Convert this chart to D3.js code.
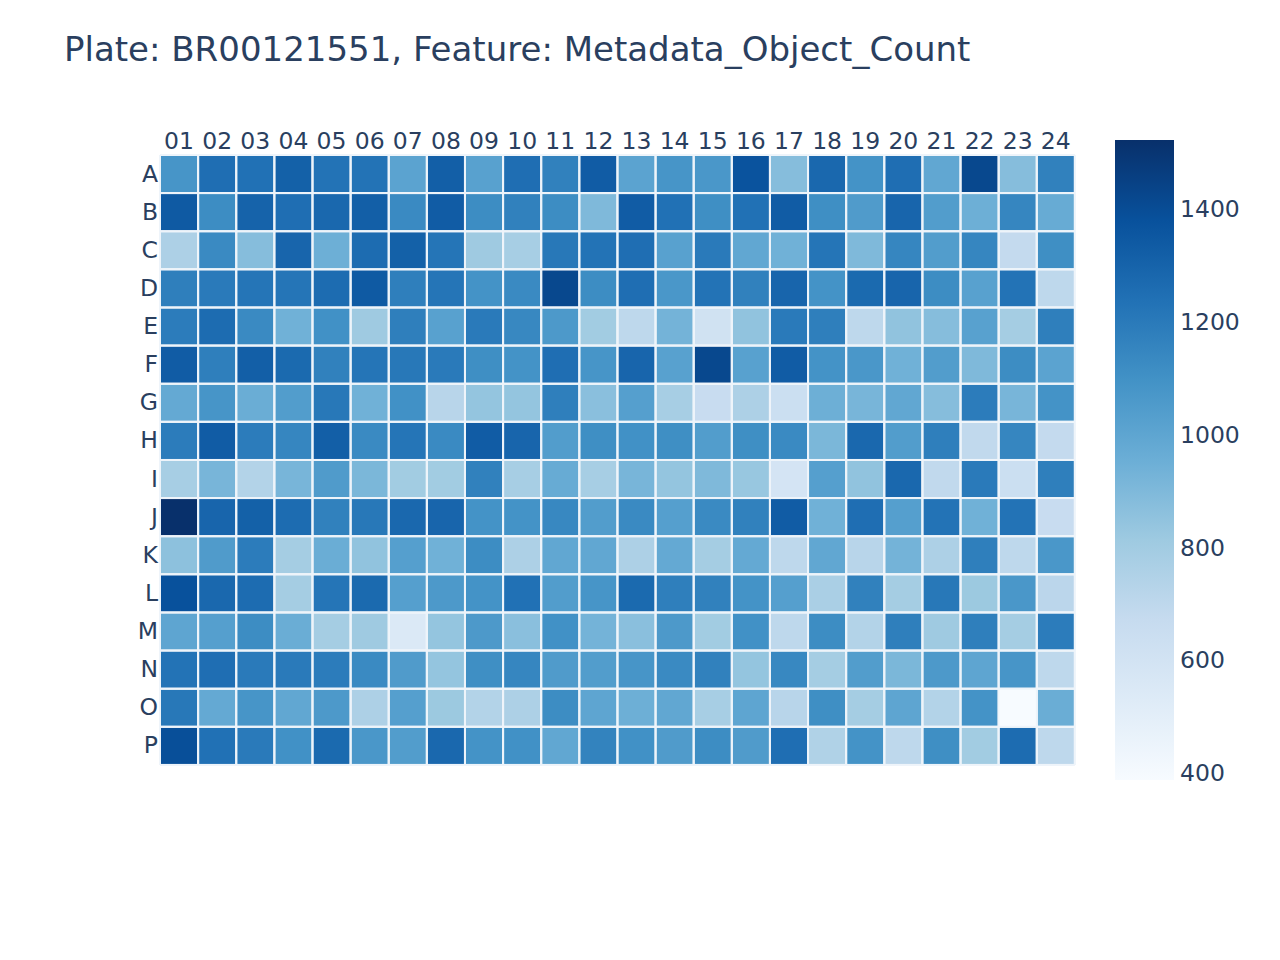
<!DOCTYPE html>
<html>
<head>
<meta charset="utf-8">
<title>Plate heatmap</title>
<script src="https://d3js.org/d3.v7.min.js"></script>
<style>
  body { margin: 0; background: #fff; }
  text { font-family: "DejaVu Sans", sans-serif; fill: #2a3f5f; }
</style>
</head>
<body>
<svg width="1280" height="960"></svg>
<script>
const title = "Plate: BR00121551, Feature: Metadata_Object_Count";
const rows = ["A","B","C","D","E","F","G","H","I","J","K","L","M","N","O","P"];
const cols = ["01","02","03","04","05","06","07","08","09","10","11","12",
              "13","14","15","16","17","18","19","20","21","22","23","24"];

// object counts per well, one array per row
const rowA = [1080,1250,1240,1310,1230,1230,1010,1320,1020,1250,1170,1330,1010,1080,1070,1370,880,1280,1090,1250,990,1420,880,1170];
const rowB = [1340,1120,1300,1250,1280,1320,1130,1330,1120,1170,1120,900,1330,1240,1110,1240,1330,1110,1050,1290,1040,950,1150,970];
const rowC = [760,1130,880,1290,950,1260,1310,1220,810,780,1210,1230,1250,1020,1200,990,940,1220,900,1150,1040,1150,680,1110];
const rowD = [1180,1200,1220,1220,1260,1340,1180,1220,1090,1130,1420,1120,1250,1070,1230,1170,1290,1090,1270,1290,1120,1020,1230,700];
const rowE = [1190,1260,1130,940,1100,810,1180,1020,1200,1140,1060,800,700,930,610,850,1200,1180,700,850,880,1020,790,1180];
const rowF = [1330,1180,1320,1270,1170,1220,1210,1200,1110,1090,1250,1080,1290,1020,1420,1020,1330,1090,1070,940,1040,900,1120,1010];
const rowG = [980,1080,960,1040,1210,940,1100,720,840,840,1180,870,1030,780,660,760,640,950,920,990,880,1190,920,1090];
const rowH = [1190,1330,1190,1150,1320,1130,1220,1130,1330,1290,1040,1110,1100,1110,1040,1110,1130,910,1280,1040,1180,690,1150,680];
const rowI = [780,920,740,920,1050,910,800,800,1170,780,970,780,920,840,900,830,590,1030,850,1280,690,1200,640,1180];
const rowJ = [1522,1290,1310,1260,1170,1210,1280,1290,1090,1090,1140,1040,1130,1030,1130,1170,1330,940,1250,1030,1230,940,1230,660];
const rowK = [860,1050,1190,790,960,850,1030,940,1120,760,990,990,760,980,790,980,700,990,720,930,760,1180,700,1070];
const rowL = [1380,1280,1260,790,1220,1270,1030,1060,1090,1240,1040,1080,1270,1180,1170,1090,1030,770,1170,790,1210,820,1070,710];
const rowM = [1000,1030,1120,960,790,810,545,840,1060,870,1100,930,870,1060,800,1100,700,1120,740,1180,810,1180,790,1190];
const rowN = [1230,1250,1200,1200,1190,1130,1050,840,1110,1150,1050,1040,1080,1130,1170,840,1140,790,1040,910,1060,1000,1080,700];
const rowO = [1210,980,1080,990,1060,760,1030,820,740,760,1120,1000,950,990,780,1000,720,1110,790,1000,740,1090,388,960];
const rowP = [1390,1240,1200,1100,1270,1070,1040,1280,1090,1100,990,1160,1100,1050,1120,1050,1250,750,1090,700,1110,800,1260,700];
const values = [rowA,rowB,rowC,rowD,rowE,rowF,rowG,rowH,rowI,rowJ,rowK,rowL,rowM,rowN,rowO,rowP];
const cbTicks = [400, 600, 800, 1000, 1200, 1400];

const blues = ["#f7fbff","#deebf7","#c6dbef","#9ecae1","#6baed6","#4292c6","#2171b5","#08519c","#08306b"];

const svg = d3.select("svg");
const gridLeft = 160, gridTop = 155, cell = 38.12;
const gridRight = gridLeft + cell * cols.length, gridBottom = gridTop + cell * rows.length;

const all = values.flat();
const zmin = d3.min(all), zmax = d3.max(all);
const color = d3.scaleLinear()
  .domain(blues.map((_, i) => zmin + (zmax - zmin) * i / (blues.length - 1)))
  .range(blues);

const x = d3.scaleBand().domain(cols).range([gridLeft, gridRight]);
const y = d3.scaleBand().domain(rows).range([gridTop, gridBottom]);

svg.append("text")
  .attr("x", 64).attr("y", 61)
  .style("font-size", "34px")
  .text(title);

const cells = [];
values.forEach((r, i) => r.forEach((v, j) => cells.push({ row: rows[i], col: cols[j], v: v })));

svg.append("g").selectAll("rect")
  .data(cells)
  .enter()
  .append("rect")
  .attr("x", d => x(d.col) + 1)
  .attr("y", d => y(d.row) + 1)
  .attr("width", x.bandwidth() - 2)
  .attr("height", y.bandwidth() - 2)
  .attr("fill", d => color(d.v));

// grid lines between wells
svg.append("g").selectAll("line")
  .data(d3.range(cols.length + 1))
  .enter().append("line")
  .attr("x1", i => gridLeft + i * cell).attr("x2", i => gridLeft + i * cell)
  .attr("y1", gridTop).attr("y2", gridBottom)
  .attr("stroke", "#eef4fa").attr("stroke-width", 2);
svg.append("g").selectAll("line")
  .data(d3.range(rows.length + 1))
  .enter().append("line")
  .attr("y1", i => gridTop + i * cell).attr("y2", i => gridTop + i * cell)
  .attr("x1", gridLeft).attr("x2", gridRight)
  .attr("stroke", "#eef4fa").attr("stroke-width", 2);

const xAxis = svg.append("g")
  .attr("transform", `translate(0,${gridTop - 6})`)
  .call(d3.axisTop(x).tickSize(0).tickPadding(0));
xAxis.select(".domain").remove();
xAxis.selectAll("text").style("font-size", "23.5px").attr("fill", "#2a3f5f");

const yAxis = svg.append("g")
  .attr("transform", `translate(${gridLeft - 2},0)`)
  .call(d3.axisLeft(y).tickSize(0).tickPadding(0));
yAxis.select(".domain").remove();
yAxis.selectAll("text").style("font-size", "23.5px").attr("fill", "#2a3f5f");

// colorbar
const cbX = 1115, cbW = 59, cbTop = 140, cbBottom = 780;
const cbScale = d3.scaleLinear().domain([zmin, zmax]).range([cbBottom, cbTop]);
const grad = svg.append("defs").append("linearGradient")
  .attr("id", "cbgrad").attr("x1", 0).attr("x2", 0).attr("y1", 1).attr("y2", 0);
blues.forEach((c, i) => grad.append("stop")
  .attr("offset", i / (blues.length - 1)).attr("stop-color", c));
svg.append("rect")
  .attr("x", cbX).attr("y", cbTop)
  .attr("width", cbW).attr("height", cbBottom - cbTop)
  .attr("fill", "url(#cbgrad)");

const cbAxis = svg.append("g")
  .attr("transform", `translate(${cbX + cbW + 6},0)`)
  .call(d3.axisRight(cbScale).tickValues(cbTicks).tickFormat(d3.format("d")).tickSize(0).tickPadding(0));
cbAxis.select(".domain").remove();
cbAxis.selectAll("text").style("font-size", "23.5px").attr("fill", "#2a3f5f");
</script>
</body>
</html>
